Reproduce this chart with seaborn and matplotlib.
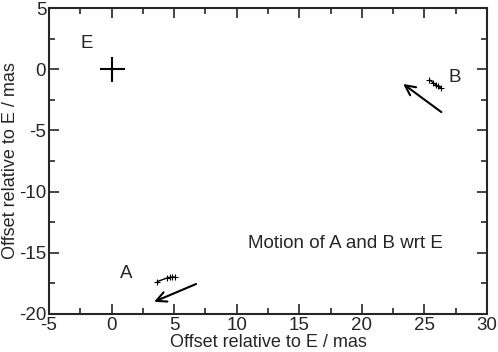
import numpy as np
import pandas as pd
import matplotlib
matplotlib.use("Agg")
import matplotlib.pyplot as plt
import seaborn as sns

# positions relative to E (mas)
a_x = [3.65, 4.45, 4.65, 4.85, 5.05]
a_y = [-17.35, -17.05, -17.0, -17.0, -16.98]
b_x = [25.4, 25.7, 25.9, 26.1, 26.35]
b_y = [-0.85, -1.1, -1.25, -1.4, -1.55]
e_x = [0.0]
e_y = [0.0]

# motion arrows: (start, end)
arrow_a = ((6.75, -17.55), (3.4, -19.0))
arrow_b = ((26.35, -3.5), (23.3, -1.2))

sns.set_style("ticks")
plt.rcParams["font.family"] = ["Liberation Sans", "DejaVu Sans"]
plt.rcParams["axes.unicode_minus"] = False

fig = plt.figure(figsize=(4.98, 3.52), dpi=100)
ax = fig.add_axes([0.0984, 0.108, 0.8796, 0.869])

sns.lineplot(x=a_x, y=a_y, sort=False, color="black", lw=1, marker="+",
             markersize=5, mew=0.8, mec="black", ax=ax)
sns.lineplot(x=b_x, y=b_y, sort=False, color="black", lw=1, marker="+",
             markersize=5, mew=0.8, mec="black", ax=ax)
ax.plot(e_x, e_y, marker="+", markersize=18, mew=1.5, color="black", ls="none")

for (x0, y0), (x1, y1) in [arrow_a, arrow_b]:
    ax.annotate("", xy=(x1, y1), xytext=(x0, y0),
                arrowprops=dict(arrowstyle="->", lw=1.5, color="black",
                                mutation_scale=18, shrinkA=0, shrinkB=0))

fs = 13.5
ax.text(-2.0, 2.1, "E", fontsize=fs, ha="center", va="center")
ax.text(27.4, -0.7, "B", fontsize=fs, ha="center", va="center")
ax.text(1.2, -16.7, "A", fontsize=fs, ha="center", va="center")
ax.text(18.7, -14.2, "Motion of A and B wrt E", fontsize=fs, ha="center", va="center")

ax.set_xlim(-5, 30)
ax.set_ylim(-20, 5)
ax.set_xticks(np.arange(-5, 31, 5))
ax.set_yticks(np.arange(-20, 6, 5))
ax.set_xticks(np.arange(-5, 31, 2.5), minor=True)
ax.set_yticks(np.arange(-20, 6, 2.5), minor=True)
ax.tick_params(which="both", direction="in", top=True, right=True,
               labelsize=13.5, width=1.2, pad=2)
ax.tick_params(which="major", length=7)
ax.tick_params(which="minor", length=4)
for s in ax.spines.values():
    s.set_linewidth(1.5)

ax.set_xlabel("Offset relative to E / mas", fontsize=13, labelpad=0)
ax.set_ylabel("Offset relative to E / mas", fontsize=13, labelpad=0)

fig.savefig("out.png", dpi=100)
